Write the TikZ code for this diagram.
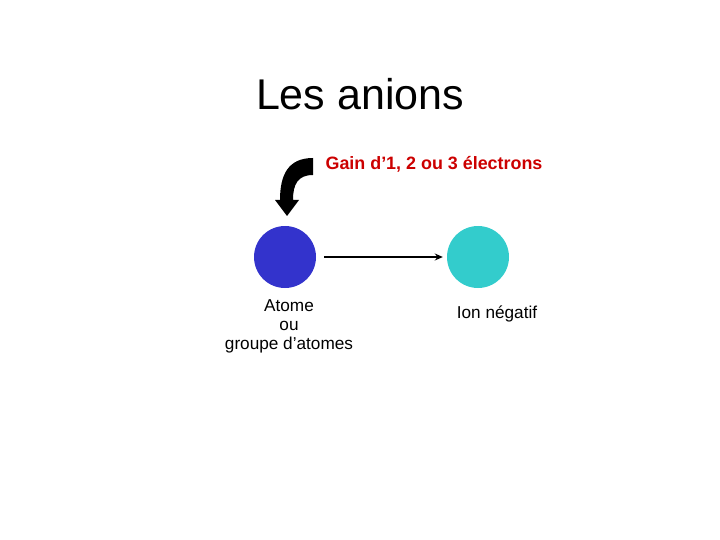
\documentclass[tikz,border=0pt]{standalone}
\usepackage{fontspec}
\setmainfont{Liberation Sans}
\usetikzlibrary{arrows.meta,positioning}
\definecolor{atomblue}{RGB}{51,51,204}
\definecolor{ioncyan}{RGB}{51,204,204}
\definecolor{gainred}{RGB}{204,0,0}
\tikzset{
  ball/.style={circle, minimum size=62pt, inner sep=0pt},
  label/.style={align=center, font=\fontsize{17.2}{19}\selectfont},
}
\begin{document}
\begin{tikzpicture}[x=1pt,y=-1pt]
        \useasboundingbox (0,0) rectangle (720,540);
        % Title
        \node (title) at (360,94) {\fontsize{43}{48}\selectfont Les anions};
        % Circles
        \node[ball, fill=atomblue] (atom) at (285,257) {};
        \node[ball, fill=ioncyan] (ion) at (478,257) {};
        \draw[line width=1.5pt, -{Stealth[length=8pt,width=7pt]}] (atom.east) ++(8,0) coordinate (start)
            (start) -- ([xshift=-4pt]ion.west);
        % Labels under circles
        \node[label] (atomtext) at (289,326) {Atome\\ou\\groupe d’atomes};
        \node[label] (iontext) at (497,314) {Ion négatif};
        % Gain label and bent arrow
        \node[text=gainred, font=\bfseries\fontsize{17.9}{20}\selectfont] (gain) at (434,164) {Gain d’1, 2 ou 3 électrons};
        \fill (313,158) .. controls (288,158) and (280,175) .. (280,200)
            -- (275,200) -- (287,216) -- (299,200) -- (293,200)
            .. controls (293,184) and (298,175) .. (313,175) -- cycle;
\end{tikzpicture}
\end{document}
